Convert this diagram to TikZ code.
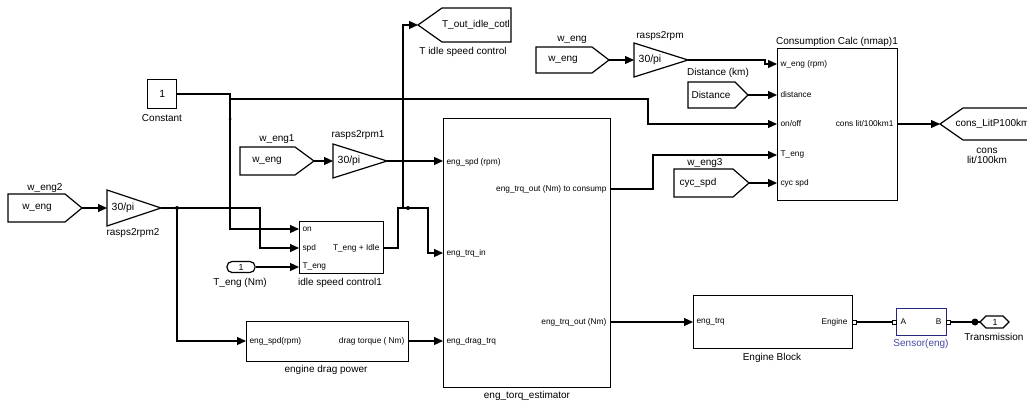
\documentclass[tikz,border=0pt]{standalone}
\usepackage{fontspec}
\setmainfont{Liberation Sans}
\usetikzlibrary{arrows.meta}
\definecolor{snavy}{RGB}{40,40,120}
\definecolor{sblue}{RGB}{70,70,165}
\begin{document}
\begin{tikzpicture}[x=1pt,y=-1pt, line width=1.15pt,
  sig/.style={-{Triangle[length=9pt,width=8pt]}},
  blk/.style={draw, rectangle, line width=1.35pt, inner sep=0pt, anchor=north west},
  tagshape/.style={draw, line width=1.2pt},
  port/.style={font=\fontsize{8.3}{8.5}\selectfont, inner sep=0pt},
  lbl/.style={font=\fontsize{10}{10.5}\selectfont, inner sep=0pt},
  tagtxt/.style={font=\fontsize{10}{10}\selectfont, inner sep=0pt},
  gaintxt/.style={font=\fontsize{10.4}{10}\selectfont, inner sep=0pt},
  jdot/.style={fill, circle, inner sep=0pt, minimum size=4pt},
  pbox/.style={draw, line width=0.8pt, fill=white, inner sep=0pt, minimum size=4pt}
]
\useasboundingbox (0,0) rectangle (1027,406);

% ---------------- blocks ----------------
\node[blk, minimum width=29pt, minimum height=29pt] (const) at (147,79) {};
\node[gaintxt] at (const.center) {1};
\node[lbl] (constl) at (162,118) {Constant};

\node[blk, minimum width=84pt, minimum height=52pt] (idle) at (299,221) {};
\node[lbl] (idlel) at (340,283) {idle speed control1};

\node[blk, minimum width=162pt, minimum height=40pt] (edp) at (246,321) {};
\node[lbl] (edpl) at (326,370) {engine drag power};

\node[blk, minimum width=167pt, minimum height=269pt] (est) at (443,118) {};
\node[lbl] (estl) at (527,396) {eng\_torq\_estimator};

\node[blk, minimum width=120pt, minimum height=152pt] (cons) at (777,48) {};
\node[lbl] (consl) at (837,42) {Consumption Calc (nmap)1};

\node[blk, minimum width=159pt, minimum height=53pt] (eb) at (693,295) {};
\node[lbl] (ebl) at (772,358) {Engine Block};

\node[blk, draw=snavy, minimum width=50pt, minimum height=27pt] (sen) at (896,308) {};
\node[lbl, text=sblue] (senl) at (921,344) {Sensor(eng)};

% ports (coordinates)
\coordinate (idle-on) at (299,229);
\coordinate (idle-spd) at (299,248);
\coordinate (idle-teng) at (299,267);
\coordinate (idle-out) at (383,248);
\coordinate (edp-in) at (246,341);
\coordinate (edp-out) at (408,341);
\coordinate (est-spd) at (443,161);
\coordinate (est-trq) at (443,253);
\coordinate (est-drag) at (443,341);
\coordinate (est-o1) at (610,189);
\coordinate (est-o2) at (610,322);
\coordinate (cons-w) at (777,64);
\coordinate (cons-d) at (777,95);
\coordinate (cons-on) at (777,124);
\coordinate (cons-t) at (777,155);
\coordinate (cons-c) at (777,183);
\coordinate (cons-o) at (897,124);
\coordinate (eb-in) at (693,322);

% port labels
\node[port, anchor=west] at (302,229) {on};
\node[port, anchor=west] at (302,248) {spd};
\node[port, anchor=west] at (302,267) {T\_eng};
\node[port, anchor=east] at (380,248) {T\_eng + Idle};
\node[port, anchor=west] at (249,341) {eng\_spd(rpm)};
\node[port, anchor=east] at (405,341) {drag torque ( Nm)};
\node[port, anchor=west] at (446,162) {eng\_spd (rpm)};
\node[port, anchor=west] at (446,253) {eng\_trq\_in};
\node[port, anchor=west] at (446,341) {eng\_drag\_trq};
\node[port, anchor=east] at (607,189) {eng\_trq\_out (Nm) to consump};
\node[port, anchor=east] at (607,322) {eng\_trq\_out (Nm)};
\node[port, anchor=west] at (780,64) {w\_eng (rpm)};
\node[port, anchor=west] at (780,95) {distance};
\node[port, anchor=west] at (780,124) {on/off};
\node[port, anchor=west] at (780,155) {T\_eng};
\node[port, anchor=west] at (780,183) {cyc spd};
\node[port, anchor=east] at (894,124) {cons lit/100km1};
\node[port, anchor=west] at (696,322) {eng\_trq};
\node[port, anchor=east] at (848,322) {Engine};
\node[port, anchor=west] at (900,322) {A};
\node[port, anchor=east] at (942,322) {B};

% ---------------- gains ----------------
\draw[tagshape] (107,190) -- (161,208) -- (107,226) -- cycle;
\coordinate (g2-in) at (107,208); \coordinate (g2-out) at (161,208);
\node[gaintxt] at (123,208) {30/pi};
\node[lbl] at (133,233) {rasps2rpm2};

\draw[tagshape] (333,144) -- (387,161) -- (333,178) -- cycle;
\coordinate (g1-in) at (333,161); \coordinate (g1-out) at (387,161);
\node[gaintxt] at (349,161) {30/pi};
\node[lbl] at (358,135) {rasps2rpm1};

\draw[tagshape] (634,43) -- (688,60) -- (634,77) -- cycle;
\coordinate (g0-in) at (634,60); \coordinate (g0-out) at (688,60);
\node[gaintxt] at (650,60) {30/pi};
\node[lbl] at (660,36) {rasps2rpm};

% ---------------- from tags ----------------
\draw[tagshape] (8,194) -- (65,194) -- (82,208) -- (65,222) -- (8,222) -- cycle;
\coordinate (f2) at (82,208);
\node[tagtxt] at (37,208) {w\_eng};
\node[lbl] at (45,188) {w\_eng2};

\draw[tagshape] (240,147) -- (295,147) -- (314,161) -- (295,175) -- (240,175) -- cycle;
\coordinate (f1) at (314,161);
\node[tagtxt] at (267,161) {w\_eng};
\node[lbl] at (277,139) {w\_eng1};

\draw[tagshape] (536,47) -- (592,47) -- (609,60) -- (592,73) -- (536,73) -- cycle;
\coordinate (f0) at (609,60);
\node[tagtxt] at (563,60) {w\_eng};
\node[lbl] at (572,40) {w\_eng};

\draw[tagshape] (688,82) -- (735,82) -- (748,95) -- (735,108) -- (688,108) -- cycle;
\coordinate (fd) at (748,95);
\node[tagtxt] at (711,95) {Distance};
\node[lbl] at (718,73) {Distance (km)};

\draw[tagshape] (674,169) -- (733,169) -- (749,183) -- (733,197) -- (674,197) -- cycle;
\coordinate (fc) at (749,183);
\node[tagtxt] at (698,183) {cyc\_spd};
\node[lbl] at (705,163) {w\_eng3};

% ---------------- goto tags ----------------
\draw[tagshape] (418,25) -- (442,8) -- (511,8) -- (511,42) -- (442,42) -- cycle;
\coordinate (gT) at (418,25);
\node[tagtxt] at (476,25) {T\_out\_idle\_cotl};
\node[lbl] at (463,52) {T idle speed control};

\draw[tagshape] (940,124) -- (963,108) -- (1045,108) -- (1045,140) -- (963,140) -- cycle;
\coordinate (gC) at (940,124);
\node[tagtxt, anchor=west] at (955,124) {cons\_LitP100km};
\node[lbl, align=center] at (987,156) {cons\\lit/100km};

% ---------------- inport / connection port ----------------
\node[draw, line width=1.2pt, rounded corners=5pt, minimum width=28pt, minimum height=11pt, inner sep=0pt, font=\fontsize{8.8}{9}\selectfont] (teng) at (241,267) {1};
\node[lbl] at (240,283) {T\_eng (Nm)};

\draw[line width=1.2pt] (980,322) -- (986,316) -- (1003,316) -- (1009,322) -- (1003,328) -- (986,328) -- cycle;
\coordinate (trans) at (980,322);
\node[font=\fontsize{8.8}{9}\selectfont, inner sep=0pt] at (995,322) {1};
\node[lbl] at (994,337) {Transmission};

% ---------------- connectors ----------------
\draw[sig] (f2) -- (g2-in);
\coordinate (j2) at (177,208);
\draw[sig] (g2-out) -- (j2) -- (260,208) |- (idle-spd);
\draw[sig] (j2) |- (edp-in);
\node[jdot] at (j2) {};
\draw[sig] (edp-out) -- (est-drag);

\coordinate (jc) at (230,94);
\draw[sig] (const.east |- jc) -- (jc) |- (idle-on);
\draw[sig] (230,99) -- (648,99) |- (cons-on);
\node[jdot, minimum size=3pt] at (230,119) {};

\draw[sig] (f1) -- (g1-in);
\draw[sig] (g1-out) -- (est-spd);
\draw[sig] (teng.east) -- (idle-teng);

\coordinate (ji) at (403,208);
\draw[sig] (idle-out) -- (398,248) |- (ji) -- (428,208) |- (est-trq);
\draw[sig] (ji) |- (gT);
\node[jdot] at (408,208) {};

\draw[sig] (est-o1) -- (653,189) |- (cons-t);
\draw[sig] (est-o2) -- (eb-in);

\draw[sig] (f0) -- (g0-in);
\draw[sig] (g0-out) -- (765,60) |- (cons-w);
\draw[sig] (fd) -- (cons-d);
\draw[sig] (fc) -- (cons-c);
\draw[sig] (cons-o) -- (gC);

% physical connections
\coordinate (ebp) at (854,322);
\coordinate (sa) at (894,322);
\coordinate (sb) at (948,322);
\coordinate (tdot) at (975,322);
\draw (ebp) -- (sa);
\draw (sb) -- (tdot) -- (trans);
\node[pbox] at (ebp) {};
\node[pbox] at (sa) {};
\node[pbox] at (sb) {};
\node[jdot, minimum size=7pt] at (tdot) {};
\end{tikzpicture}
\end{document}
